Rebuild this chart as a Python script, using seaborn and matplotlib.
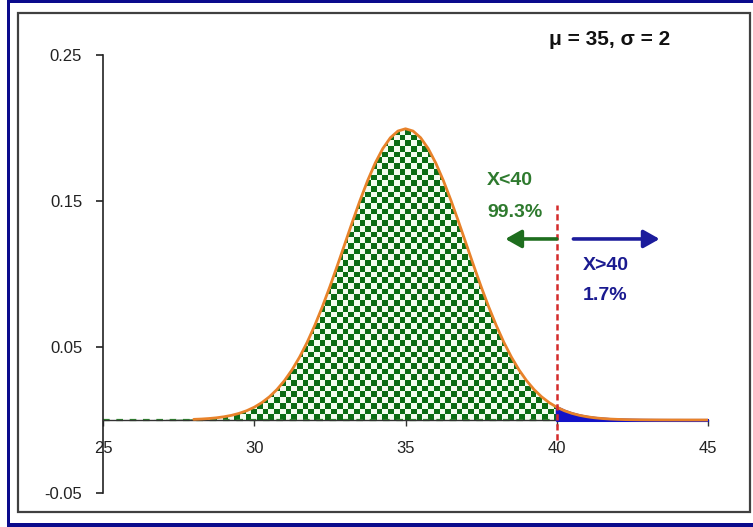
import numpy as np
import pandas as pd
import matplotlib
matplotlib.use("Agg")
import matplotlib.pyplot as plt
from matplotlib.colors import ListedColormap
from matplotlib.patches import Rectangle
import seaborn as sns

# Normal density, mu = 35, sigma = 2, sampled every 0.25 from 25 to 45
x_values = np.round(np.arange(25.0, 45.0001, 0.25), 2)
density = [
    0.00000, 0.00000, 0.00000, 0.00000, 0.00001, 0.00001, 0.00002, 0.00004,
    0.00007, 0.00011, 0.00018, 0.00028, 0.00044, 0.00067, 0.00101, 0.00151,
    0.00222, 0.00320, 0.00455, 0.00636, 0.00876, 0.01189, 0.01587, 0.02086,
    0.02700, 0.03439, 0.04314, 0.05327, 0.06476, 0.07751, 0.09132, 0.10594,
    0.12099, 0.13603, 0.15057, 0.16408, 0.17603, 0.18593, 0.19333, 0.19792,
    0.19947,
    0.19792, 0.19333, 0.18593, 0.17603, 0.16408, 0.15057, 0.13603, 0.12099,
    0.10594, 0.09132, 0.07751, 0.06476, 0.05327, 0.04314, 0.03439, 0.02700,
    0.02086, 0.01587, 0.01189, 0.00876, 0.00636, 0.00455, 0.00320, 0.00222,
    0.00151, 0.00101, 0.00067, 0.00044, 0.00028, 0.00018, 0.00011, 0.00007,
    0.00004, 0.00002, 0.00001, 0.00001, 0.00000, 0.00000, 0.00000, 0.00000,
]
cutoff = 40
curve_start = 28
x_ticks = [25, 30, 35, 40, 45]
y_ticks = [-0.05, 0.05, 0.15, 0.25]
y_tick_labels = ["-0.05", "0.05", "0.15", "0.25"]
title_text = "\u03bc = 35, \u03c3 = 2"
left_labels = ["X<40", "99.3%"]
right_labels = ["X>40", "1.7%"]

df = pd.DataFrame({"x": x_values, "density": density})

sns.set_theme(style="white")
plt.rcParams["font.family"] = ["Liberation Sans", "DejaVu Sans"]

W, H = 753, 527
fig = plt.figure(figsize=(W / 100, H / 100), dpi=100)
fig.patch.set_facecolor("white")

def fx(px):
    return px / W

def fy(py):
    return 1 - py / H

# outer navy border and inner dark frame
navy = "#0a0a8c"
for (x0, y0, x1, y1) in [(7, 0, 753, 3), (7, 0, 10, 527), (7, 523, 753, 527)]:
    fig.patches.append(Rectangle((fx(x0), fy(y1)), fx(x1) - fx(x0), fy(y0) - fy(y1),
                                 transform=fig.transFigure, facecolor=navy,
                                 edgecolor="none", zorder=0))
fig.patches.append(Rectangle((fx(18), fy(512)), fx(750) - fx(18), fy(13) - fy(512),
                             transform=fig.transFigure, facecolor="none",
                             edgecolor="#404040", linewidth=1.6, zorder=0))

ax = fig.add_axes([fx(103), fy(493), fx(708) - fx(103), fy(55) - fy(493)])
ax.set_facecolor("none")
ax.set_xlim(25, 45)
ax.set_ylim(-0.05, 0.25)

# checkerboard fill under the curve, left of the cutoff
left = df[df["x"] <= cutoff]
region = ax.fill_between(left["x"], 0, left["density"], facecolor="none",
                         edgecolor="none", zorder=2)
p0 = ax.transData.transform((25, 0))
p1 = ax.transData.transform((26, 0.01))
px_per_x = p1[0] - p0[0]
px_per_y = p1[1] - p0[1]
cell = 5.7
ncols = int(np.ceil((cutoff - 25) * px_per_x / cell)) + 1
nrows = int(np.ceil(0.21 * px_per_y / 0.01 / cell)) + 1
grid = np.indices((nrows, ncols)).sum(axis=0) % 2
checker_cmap = ListedColormap(["#f4fcf0", "#0b6c14"])
im = ax.imshow(grid, cmap=checker_cmap, interpolation="nearest", origin="lower",
               extent=(25, 25 + ncols * cell / px_per_x, 0,
                       nrows * cell / (px_per_y / 0.01)),
               aspect="auto", zorder=2)
im.set_clip_path(region.get_paths()[0], transform=ax.transData)

# blue tail to the right of the cutoff
right = df[df["x"] >= cutoff]
ax.fill_between(right["x"], 0, right["density"], facecolor="#1212c8",
                edgecolor="#1212c8", linewidth=2.2, zorder=2.6)

# x axis baseline with the dashed green edge of the fill
ax.spines["bottom"].set_position(("data", 0))
ax.spines["bottom"].set_color("#333333")
ax.spines["bottom"].set_linewidth(1.0)
ax.plot([25, cutoff], [0, 0], color="#2f8a2f", lw=1.6,
        linestyle=(0, (3, 3)), zorder=2.5)

# orange density curve
curve = df[df["x"] >= curve_start]
sns.lineplot(data=curve, x="x", y="density", color="#e8822a", lw=2.0,
             ax=ax, zorder=3)

# red dashed cutoff line
ax.plot([cutoff, cutoff], [-0.0137, 0.147], color="#d42a2a", lw=1.8,
        linestyle=(0, (2.5, 1.5)), zorder=4)

# arrows
green_arrow = "#1e6e1e"
blue_arrow = "#1c1c9c"
ax.annotate("", xy=(38.3, 0.124), xytext=(40.0, 0.124),
            arrowprops=dict(arrowstyle="-|>,head_length=0.8,head_width=0.45",
                            color=green_arrow, lw=2.6, shrinkA=0, shrinkB=0),
            zorder=5)
ax.annotate("", xy=(43.4, 0.124), xytext=(40.55, 0.124),
            arrowprops=dict(arrowstyle="-|>,head_length=0.8,head_width=0.45",
                            color=blue_arrow, lw=2.6, shrinkA=0, shrinkB=0),
            zorder=5)

# annotations
ax.text(37.7, 0.164, left_labels[0], color="#2e7a2e", fontsize=14,
        fontweight="bold", ha="left", va="center")
ax.text(37.7, 0.142, left_labels[1], color="#2e7a2e", fontsize=14,
        fontweight="bold", ha="left", va="center")
ax.text(40.85, 0.106, right_labels[0], color="#1a1a90", fontsize=14,
        fontweight="bold", ha="left", va="center")
ax.text(40.85, 0.085, right_labels[1], color="#1a1a90", fontsize=14,
        fontweight="bold", ha="left", va="center")
ax.text(41.75, 0.2603, title_text, color="#111111", fontsize=15,
        fontweight="bold", ha="center", va="center", clip_on=False)

# axes styling
for side in ["top", "right"]:
    ax.spines[side].set_visible(False)
ax.spines["left"].set_color("#222222")
ax.spines["left"].set_linewidth(1.2)
ax.spines["left"].set_bounds(-0.05, 0.25)
ax.set_xticks(x_ticks)
ax.set_xticklabels([str(v) for v in x_ticks])
ax.set_yticks(y_ticks)
ax.set_yticklabels(y_tick_labels)
ax.tick_params(axis="x", direction="out", length=4, width=1, color="#333333",
               pad=11, labelsize=12, labelcolor="#222222", bottom=True)
ax.tick_params(axis="y", direction="out", length=5, width=1.2, color="#222222",
               pad=10, labelsize=12, labelcolor="#222222", left=True)
ax.set_xlabel("")
ax.set_ylabel("")
ax.grid(False)

fig.savefig("out.png", dpi=100)
